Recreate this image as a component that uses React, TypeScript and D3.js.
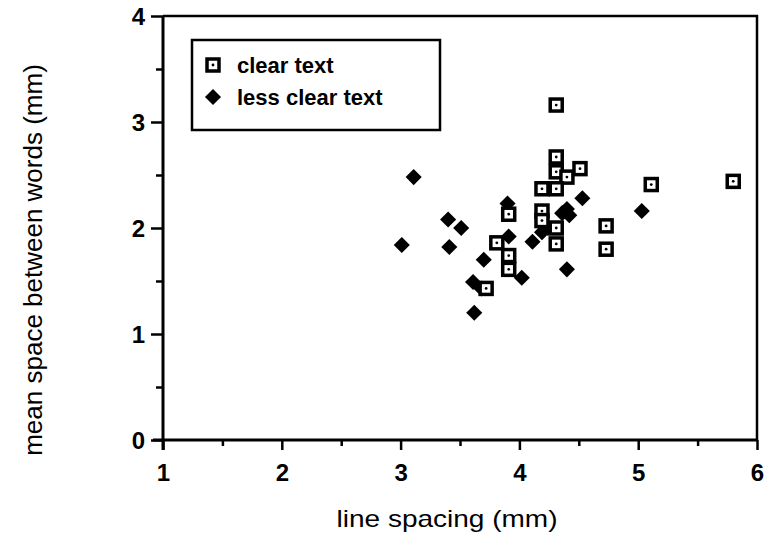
import React, { useEffect, useRef } from 'react';
import * as d3 from 'd3';

// clear text (open squares)
const clearX = [4.31, 4.31, 4.31, 4.51, 4.40, 4.19, 4.31, 3.91, 4.19, 4.19, 3.81, 4.31, 3.91, 3.91, 4.73, 4.73, 5.11, 5.80, 4.31, 3.72];
const clearY = [3.16, 2.67, 2.53, 2.56, 2.48, 2.37, 2.37, 2.13, 2.16, 2.07, 1.86, 1.85, 1.74, 1.61, 2.02, 1.80, 2.41, 2.44, 2.00, 1.43];

// less clear text (filled diamonds)
const lessX = [3.01, 3.11, 3.40, 3.51, 3.41, 3.61, 3.70, 3.68, 3.62, 4.02, 3.90, 3.91, 4.11, 4.19, 4.40, 4.53, 5.03, 4.40, 4.42, 4.36, 4.24];
const lessY = [1.84, 2.48, 2.08, 2.00, 1.82, 1.49, 1.70, 1.43, 1.20, 1.53, 2.23, 1.92, 1.87, 1.96, 1.61, 2.28, 2.16, 2.18, 2.12, 2.14, 2.00];

const xTicks = [1, 2, 3, 4, 5, 6];
const yTicks = [0, 1, 2, 3, 4];
const legendLabels = ['clear text', 'less clear text'];

const W = 767;
const H = 534;
const FONT = '"Liberation Sans", Arial, sans-serif';

const App = () => {
  const ref = useRef<SVGSVGElement>(null);

  useEffect(() => {
    const svg = d3.select(ref.current);
    svg.selectAll('*').remove();

    const x = d3.scaleLinear().domain([1, 6]).range([163, 757]);
    const y = d3.scaleLinear().domain([0, 4]).range([440, 16]);

    // frame top + right
    svg.append('path')
      .attr('d', `M${x(1)},${y(4)}H${x(6)}V${y(0)}`)
      .attr('fill', 'none')
      .attr('stroke', '#000')
      .attr('stroke-width', 2.5);

    // x axis
    const xAxis = svg.append('g').attr('transform', `translate(0,${y(0)})`);
    xAxis.call(d3.axisBottom(x).tickValues(d3.range(1, 6.01, 0.5)).tickSize(10).tickFormat(() => ''));
    xAxis.select('.domain').attr('stroke-width', 3).attr('d', `M${x(1) - 10},0H${x(6)}`);
    xAxis.selectAll('.tick line').attr('stroke-width', 2.5);
    xAxis.selectAll('.tick')
      .filter((d: any) => d % 1 !== 0)
      .select('line').attr('y2', 6);
    xAxis.selectAll('.tick')
      .filter((d: any) => xTicks.includes(d))
      .append('text')
      .attr('y', 41)
      .attr('fill', '#000')
      .attr('text-anchor', 'middle')
      .style('font-family', FONT)
      .style('font-weight', 'bold')
      .style('font-size', '24px')
      .text((d: any) => d);

    // y axis
    const yAxis = svg.append('g').attr('transform', `translate(${x(1)},0)`);
    yAxis.call(d3.axisLeft(y).tickValues(d3.range(0, 4.01, 0.5)).tickSize(12).tickFormat(() => ''));
    yAxis.select('.domain').attr('stroke-width', 3).attr('d', `M0,${y(4)}V${y(0) + 10}`);
    yAxis.selectAll('.tick line').attr('stroke-width', 2.5);
    yAxis.selectAll('.tick')
      .filter((d: any) => d % 1 !== 0)
      .select('line').attr('x2', -7);
    yAxis.selectAll('.tick')
      .filter((d: any) => yTicks.includes(d))
      .append('text')
      .attr('x', -18)
      .attr('dy', '0.36em')
      .attr('fill', '#000')
      .attr('text-anchor', 'end')
      .style('font-family', FONT)
      .style('font-weight', 'bold')
      .style('font-size', '24px')
      .text((d: any) => d);

    // axis titles
    svg.append('text')
      .attr('x', 447)
      .attr('y', 527)
      .attr('text-anchor', 'middle')
      .attr('textLength', 221)
      .attr('lengthAdjust', 'spacingAndGlyphs')
      .style('font-family', FONT)
      .style('font-size', '24px')
      .text('line spacing (mm)');
    svg.append('text')
      .attr('transform', 'translate(42,260) rotate(-90)')
      .attr('text-anchor', 'middle')
      .style('font-family', FONT)
      .style('font-size', '26px')
      .text('mean space between words (mm)');

    const square = (g: any, cx: number, cy: number) => {
      g.append('rect')
        .attr('x', cx - 6).attr('y', cy - 6)
        .attr('width', 12).attr('height', 12)
        .attr('fill', '#fff').attr('stroke', '#000').attr('stroke-width', 3.5);
      g.append('circle').attr('cx', cx).attr('cy', cy).attr('r', 1.4).attr('fill', '#000');
    };
    const diamond = d3.symbol().type(d3.symbolDiamond2).size(165);

    const pts = svg.append('g');
    lessX.forEach((v, i) => {
      pts.append('path')
        .attr('d', diamond)
        .attr('transform', `translate(${x(v)},${y(lessY[i])})`)
        .attr('fill', '#000');
    });
    clearX.forEach((v, i) => square(pts, x(v), y(clearY[i])));

    // legend
    const lg = svg.append('g');
    lg.append('rect')
      .attr('x', 192).attr('y', 40).attr('width', 248).attr('height', 90)
      .attr('fill', '#fff').attr('stroke', '#000').attr('stroke-width', 2.5);
    square(lg, 213, 65);
    lg.append('path').attr('d', diamond).attr('transform', 'translate(213,97)').attr('fill', '#000');
    legendLabels.forEach((t, i) => {
      lg.append('text')
        .attr('x', 237).attr('y', 73 + i * 32)
        .style('font-family', FONT)
        .style('font-weight', 'bold')
        .style('font-size', '22px')
        .text(t);
    });
  }, []);

  return <svg ref={ref} width={W} height={H} style={{ position: 'absolute', left: 0, top: 0 }} />;
};

export default App;
